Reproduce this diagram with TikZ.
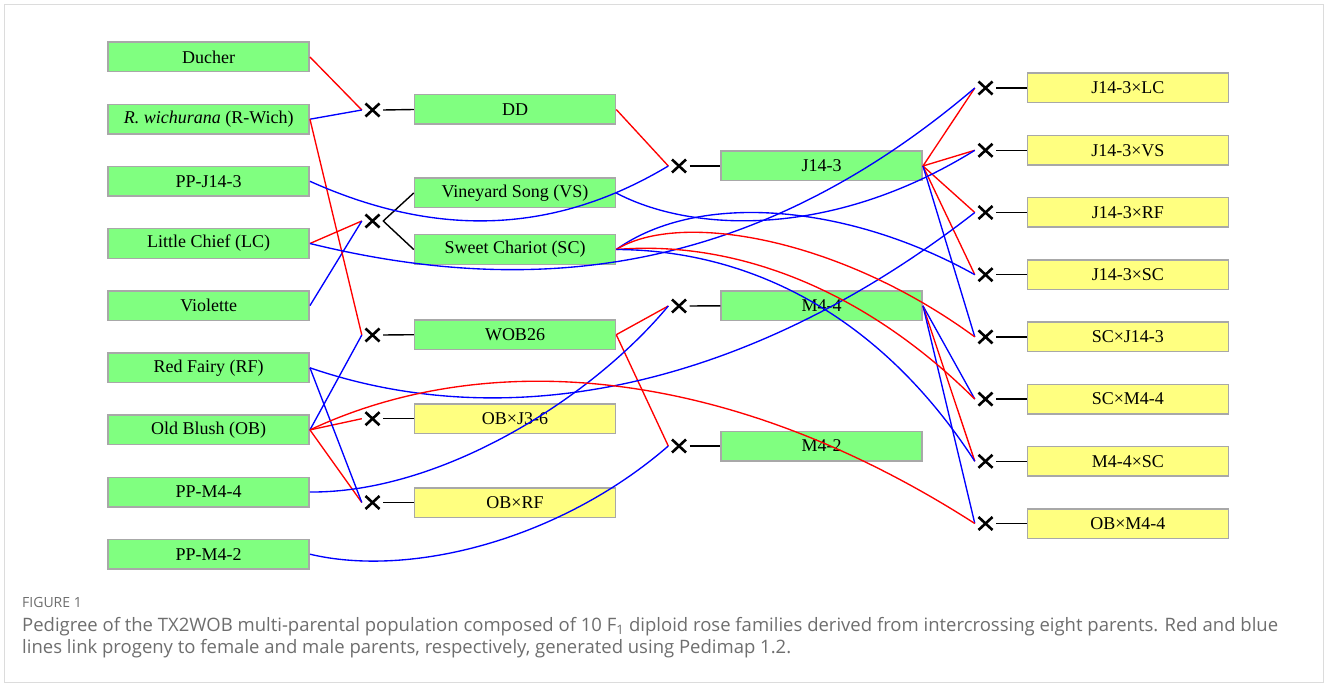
\documentclass[tikz,border=0pt]{standalone}
\usepackage{fontspec}
\setmainfont{Liberation Serif}
\newfontfamily\capfont{Open Sans}
\definecolor{boxgreen}{RGB}{128,255,128}
\definecolor{boxyellow}{RGB}{255,255,128}
\definecolor{boxborder}{RGB}{168,168,168}
\definecolor{femred}{RGB}{255,0,0}
\definecolor{malblue}{RGB}{0,0,255}
\definecolor{capgrey}{RGB}{110,110,110}
\definecolor{framegrey}{RGB}{220,220,220}
\begin{document}
\begin{tikzpicture}[x=1pt,y=-1pt,
  pbox/.style={draw=boxborder, line width=1.5pt, minimum width=201pt, minimum height=29.5pt,
    inner sep=0pt, font=\fontsize{18}{20}\selectfont},
  gbox/.style={pbox, fill=boxgreen},
  ybox/.style={pbox, fill=boxyellow},
  crossmark/.style={minimum width=21pt, minimum height=16pt, inner sep=0pt,
    path picture={\draw[line width=2.6pt,black] (path picture bounding box.center) ++(-7pt,-6.5pt) -- ++(14pt,13pt)
      (path picture bounding box.center) ++(-7pt,6.5pt) -- ++(14pt,-13pt);}},
  fem/.style={draw=femred, line width=1.35pt},
  mal/.style={draw=malblue, line width=1.35pt},
  link/.style={draw=black, line width=1.4pt},
  captxt/.style={anchor=base west, inner sep=0pt, text=capgrey}]
\useasboundingbox (0,0) rectangle (1328,687);
\fill[white] (0,0) rectangle (1328,687);
\draw[framegrey, line width=1pt] (4.5,4.5) rectangle (1323.5,682.5);

% column 1
\node[gbox] (ducher) at (208.7,57) {Ducher};
\node[gbox] (rw) at (208.7,119.2) {\textit{R. wichurana} (R-Wich)};
\node[gbox] (ppj) at (208.7,181.3) {PP-J14-3};
\node[gbox] (lc) at (208.7,243.5) {Little Chief (LC)};
\node[gbox] (vio) at (208.7,305.6) {Violette};
\node[gbox] (rf) at (208.7,367.8) {Red Fairy (RF)};
\node[gbox] (ob) at (208.7,429.9) {Old Blush (OB)};
\node[gbox] (ppm44) at (208.7,492) {PP-M4-4};
\node[gbox] (ppm42) at (208.7,554.2) {PP-M4-2};

% column 2
\node[gbox] (dd) at (515,109.5) {DD};
\node[gbox] (vs) at (515,193) {Vineyard Song (VS)};
\node[gbox] (sc) at (515,249.5) {Sweet Chariot (SC)};
\node[gbox] (wob) at (515,334.7) {WOB26};
\node[ybox] (obj) at (515,418.7) {OB×J3-6};
\node[ybox] (obrf) at (515,502.5) {OB×RF};

% column 3
\node[gbox] (j14) at (821.7,166) {J14-3};
\node[gbox] (m44) at (821.7,305.8) {M4-4};
\node[gbox] (m42) at (821.7,446) {M4-2};

% column 4
\node[ybox] (jlc) at (1127.9,88) {J14-3×LC};
\node[ybox] (jvs) at (1127.9,150.3) {J14-3×VS};
\node[ybox] (jrf) at (1127.9,212.5) {J14-3×RF};
\node[ybox] (jsc) at (1127.9,274.7) {J14-3×SC};
\node[ybox] (scj) at (1127.9,336.9) {SC×J14-3};
\node[ybox] (scm) at (1127.9,399.1) {SC×M4-4};
\node[ybox] (msc) at (1127.9,461.3) {M4-4×SC};
\node[ybox] (obm) at (1127.9,523.5) {OB×M4-4};

% crosses
\node[crossmark] (xdd) at (372.5,110) {};
\node[crossmark] (xvs) at (372.5,221) {};
\node[crossmark] (xwob) at (372.5,335) {};
\node[crossmark] (xobj) at (372.5,418.7) {};
\node[crossmark] (xobrf) at (372.5,502.5) {};
\node[crossmark] (xj14) at (679,166) {};
\node[crossmark] (xm44) at (679,306) {};
\node[crossmark] (xm42) at (679,446) {};
\node[crossmark] (xjlc) at (985.5,88) {};
\node[crossmark] (xjvs) at (985.5,150.3) {};
\node[crossmark] (xjrf) at (985.5,212.5) {};
\node[crossmark] (xjsc) at (985.5,274.7) {};
\node[crossmark] (xscj) at (985.5,336.9) {};
\node[crossmark] (xscm) at (985.5,399.1) {};
\node[crossmark] (xmsc) at (985.5,461.3) {};
\node[crossmark] (xobm) at (985.5,523.5) {};

% cross to progeny links
\draw[link] (xdd.east) -- (dd.west);
\draw[link] (xvs.east) -- (vs.west);
\draw[link] (xvs.east) -- (sc.west);
\draw[link] (xwob.east) -- (wob.west);
\draw[link] (xobj.east) -- (obj.west);
\draw[link] (xobrf.east) -- (obrf.west);
\draw[link] (xj14.east) -- (j14.west);
\draw[link] (xm44.east) -- (m44.west);
\draw[link] (xm42.east) -- (m42.west);
\draw[link] (xjlc.east) -- (jlc.west);
\draw[link] (xjvs.east) -- (jvs.west);
\draw[link] (xjrf.east) -- (jrf.west);
\draw[link] (xjsc.east) -- (jsc.west);
\draw[link] (xscj.east) -- (scj.west);
\draw[link] (xscm.east) -- (scm.west);
\draw[link] (xmsc.east) -- (msc.west);
\draw[link] (xobm.east) -- (obm.west);

% straight parent links
\draw[fem] (ducher.east) -- (xdd.west);
\draw[mal] (rw.east) -- (xdd.west);
\draw[fem] (lc.east) -- (xvs.west);
\draw[mal] (vio.east) -- (xvs.west);
\draw[fem] (rw.east) -- (xwob.west);
\draw[mal] (ob.east) -- (xwob.west);
\draw[fem] (ob.east) -- (xobj.west);
\draw[fem] (ob.east) -- (xobrf.west);
\draw[mal] (rf.east) -- (xobrf.west);
\draw[fem] (dd.east) -- (xj14.west);
\draw[fem] (wob.east) -- (xm44.west);
\draw[fem] (wob.east) -- (xm42.west);
\draw[fem] (j14.east) -- (xjlc.west);
\draw[fem] (j14.east) -- (xjvs.west);
\draw[fem] (j14.east) -- (xjrf.west);
\draw[fem] (j14.east) -- (xjsc.west);
\draw[mal] (j14.east) -- (xscj.west);
\draw[mal] (m44.east) -- (xscm.west);
\draw[fem] (m44.east) -- (xmsc.west);
\draw[mal] (m44.east) -- (xobm.west);

% curved parent links
\draw[mal] (ppj.east) .. controls (430,235) and (548,238) .. (xj14.west);
\draw[mal] (ppm44.east) .. controls (440,493) and (590,400) .. (xm44.west);
\draw[mal] (ppm42.east) .. controls (410,578) and (560,540) .. (xm42.west);
\draw[mal] (lc.east) .. controls (532,298) and (753,277) .. (xjlc.west);
\draw[mal] (vs.east) .. controls (690,232) and (830,240) .. (xjvs.west);
\draw[mal] (rf.east) .. controls (520,440) and (760,380) .. (xjrf.west);
\draw[mal] (sc.east) .. controls (700,190) and (850,205) .. (xjsc.west);
\draw[fem] (sc.east) .. controls (680,210) and (840,238) .. (xscj.west);
\draw[fem] (sc.east) .. controls (730,240) and (860,285) .. (xscm.west);
\draw[mal] (sc.east) .. controls (750,250) and (880,315) .. (xmsc.west);
\draw[fem] (ob.east) .. controls (480,350) and (720,360) .. (xobm.west);

% caption
\node[captxt, font=\capfont\fontsize{14}{16}\selectfont] (figlab) at (22,607) {FIGURE 1};
\node[captxt, font=\capfont\fontsize{18.5}{22}\selectfont] (cap1) at (22,631) {Pedigree of the TX2WOB multi-parental population composed of 10 F\textsubscript{1} diploid rose families derived from intercrossing eight parents. Red and blue};
\node[captxt, font=\capfont\fontsize{18.5}{22}\selectfont] (cap2) at (22,653) {lines link progeny to female and male parents, respectively, generated using Pedimap 1.2.};
\end{tikzpicture}
\end{document}
